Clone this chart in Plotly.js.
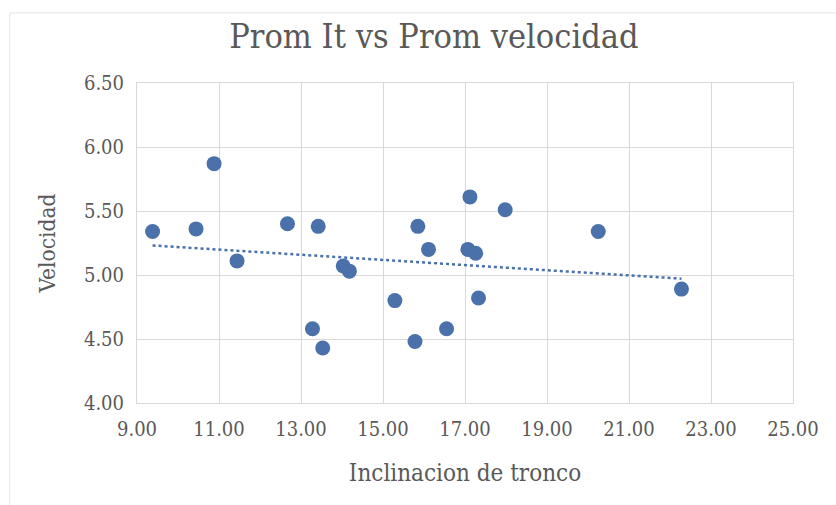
<!DOCTYPE html>
<html>
<head>
<meta charset="utf-8">
<script src="https://cdn.plot.ly/plotly-3.0.1.min.js"></script>
<style>html,body{margin:0;padding:0;background:#fff;}#chart{width:836px;height:505px;}</style>
</head>
<body>
<div id="chart"></div>
<script>
const titleText = 'Prom It vs Prom velocidad';
const xTitle = 'Inclinacion de tronco';
const yTitle = 'Velocidad';
const inclinacion = [9.38, 10.44, 10.88, 11.44, 12.67, 13.42, 13.28, 13.53, 14.03, 14.18, 15.29, 15.78, 15.85, 16.11, 16.55, 17.12, 17.07, 17.26, 17.33, 17.98, 20.25, 22.28];
const velocidad = [5.34, 5.36, 5.87, 5.11, 5.40, 5.38, 4.58, 4.43, 5.07, 5.03, 4.80, 4.48, 5.38, 5.20, 4.58, 5.61, 5.20, 5.17, 4.82, 5.51, 5.34, 4.89];

// linear trendline (least squares) from the data
const n = inclinacion.length;
const mx = inclinacion.reduce((a, b) => a + b, 0) / n;
const my = velocidad.reduce((a, b) => a + b, 0) / n;
let sxy = 0, sxx = 0;
for (let i = 0; i < n; i++) { sxy += (inclinacion[i] - mx) * (velocidad[i] - my); sxx += (inclinacion[i] - mx) ** 2; }
const slope = sxy / sxx, icpt = my - slope * mx;
const xmin = Math.min(...inclinacion), xmax = Math.max(...inclinacion);
const trendX = [xmin, xmax];
const trendY = trendX.map(v => icpt + slope * v);

const FONT = '"DejaVu Serif Condensed", "DejaVu Serif", serif';
const GREY = '#595959';
const GRID = '#d9d9d9';
const BLUE = '#4a71a9';

const data = [
  { x: trendX, y: trendY, type: 'scatter', mode: 'lines', line: { color: BLUE, width: 2.5, dash: 'dot' }, hoverinfo: 'skip' },
  { x: inclinacion, y: velocidad, type: 'scatter', mode: 'markers', marker: { color: BLUE, size: 15 } }
];

const layout = {
  width: 836, height: 505,
  margin: { l: 137, r: 43, t: 83, b: 102 },
  paper_bgcolor: '#ffffff', plot_bgcolor: '#ffffff',
  showlegend: false,
  font: { family: FONT, color: GREY },
  title: { text: titleText, font: { family: FONT, size: 34, color: GREY }, x: 0.519, xref: 'container', xanchor: 'center', y: 0.928, yref: 'container', yanchor: 'middle' },
  xaxis: {
    range: [9, 25], tick0: 9, dtick: 2, tickformat: '.2f',
    showgrid: true, gridcolor: GRID, gridwidth: 1, zeroline: false,
    showline: true, mirror: true, linecolor: GRID, linewidth: 1,
    ticks: '', ticklabelstandoff: 8,
    tickfont: { family: FONT, size: 20, color: GREY },
    title: { text: xTitle, font: { family: FONT, size: 24, color: GREY }, standoff: 24 }
  },
  yaxis: {
    range: [4, 6.5], tick0: 4, dtick: 0.5, tickformat: '.2f',
    showgrid: true, gridcolor: GRID, gridwidth: 1, zeroline: false,
    showline: true, mirror: true, linecolor: GRID, linewidth: 1,
    ticks: '', ticklabelstandoff: 8,
    tickfont: { family: FONT, size: 20, color: GREY },
    title: { text: yTitle, font: { family: FONT, size: 22.5, color: GREY }, standoff: 22 }
  },
  shapes: [
    { type: 'line', xref: 'paper', yref: 'paper', x0: -0.194, x1: 1.07, y0: 1.219, y1: 1.219, line: { color: '#e3e3e3', width: 1 } },
    { type: 'line', xref: 'paper', yref: 'paper', x0: -0.194, x1: -0.194, y0: 1.219, y1: -0.32, line: { color: '#e3e3e3', width: 1 } }
  ]
};

Plotly.newPlot('chart', data, layout, { displayModeBar: false, staticPlot: true });
</script>
</body>
</html>
